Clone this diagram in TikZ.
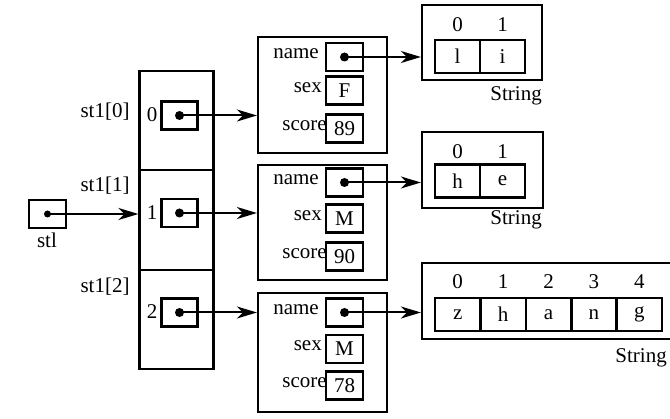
\documentclass[tikz,border=0pt]{standalone}
\usepackage{fontspec}
\setmainfont{Liberation Serif}
\usetikzlibrary{arrows.meta}
\begin{document}
\begin{tikzpicture}[x=1pt,y=-1pt,
  every node/.style={font=\fontsize{21}{25}\selectfont, inner sep=0pt},
  box/.style={draw, line width=2.2pt, inner sep=0pt},
  ptr/.style={line width=2pt, -{Stealth[length=20pt,width=12pt,inset=6pt]}},
  dotc/.style={fill, circle, inner sep=0pt, minimum size=9pt}]
\useasboundingbox (0,0) rectangle (670,419);

% stl
\node[box, minimum width=37pt, minimum height=28pt] (stl) at (47.5,214) {};
\node (stllab) at (47,240) {stl};
\node[dotc, minimum size=7pt] (stld) at (stl.center) {};

% array
\node[box, minimum width=74pt, minimum height=99pt] (a0) at (176.5,120.5) {};
\node[box, minimum width=74pt, minimum height=100pt] (a1) at (176.5,220) {};
\node[box, minimum width=74pt, minimum height=99pt] (a2) at (176.5,319.5) {};
\node[box, minimum width=36pt, minimum height=28pt] (p0) at (179.5,115.5) {};
\node[box, minimum width=36pt, minimum height=28pt] (p1) at (179.5,213) {};
\node[box, minimum width=36pt, minimum height=28pt] (p2) at (179.5,312.5) {};
\node (i0) at (152,115) {0};
\node (i1) at (152,213) {1};
\node (i2) at (152,312) {2};
\node (l0) at (105,112) {st1[0]};
\node (l1) at (105,186) {st1[1]};
\node (l2) at (105,287) {st1[2]};
\node[dotc] (d0) at (p0.center) {};
\node[dotc] (d1) at (p1.center) {};
\node[dotc] (d2) at (p2.center) {};

% structs
\tikzset{vbox/.style={box, minimum width=37pt, minimum height=28pt}}
\node[box, minimum width=129pt, minimum height=116pt] (s1) at (322.5,95) {};
\node[box, minimum width=129pt, minimum height=115pt] (s2) at (322.5,222.5) {};
\node[box, minimum width=129pt, minimum height=119pt] (s3) at (322.5,352.5) {};

\node[vbox] (s1n) at (344.5,57) {};
\node[vbox] (s1s) at (344.5,90.5) {F};
\node[vbox] (s1c) at (344.5,128.5) {89};
\node[vbox] (s2n) at (344.5,182.5) {};
\node[vbox] (s2s) at (344.5,218.5) {M};
\node[vbox] (s2c) at (344.5,256.5) {90};
\node[vbox] (s3n) at (344.5,312.5) {};
\node[vbox] (s3s) at (344.5,349) {M};
\node[vbox] (s3c) at (344.5,385.5) {78};

\foreach \k/\yn/\ys/\yc in {1/54/88/126, 2/180/216/254, 3/310/346/383}{
  \node[anchor=east] (nl\k) at (319,\yn) {name};
  \node[anchor=east] (xl\k) at (322,\ys) {sex};
  \node[anchor=east] (cl\k) at (327,\yc) {score};
}
\node[dotc] (n1d) at (s1n.center) {};
\node[dotc] (n2d) at (s2n.center) {};
\node[dotc] (n3d) at (s3n.center) {};

% strings
\tikzset{cell/.style={box, minimum width=45pt, minimum height=33pt}}
\node[box, minimum width=120pt, minimum height=75pt] (t1) at (482,42.5) {};
\node[cell] (t1a) at (457.5,56.5) {l};
\node[cell] (t1b) at (502.5,56.5) {i};
\node (t1i0) at (457.5,25) {0};
\node (t1i1) at (502.5,25) {1};
\node[anchor=east] (t1l) at (542,96) {String};

\node[box, minimum width=121pt, minimum height=76pt] (t2) at (482.5,170) {};
\node[cell] (t2a) at (457.5,181) {h};
\node[cell] (t2b) at (502.5,181) {e};
\node (t2i0) at (457.5,152) {0};
\node (t2i1) at (502.5,152) {1};
\node[anchor=east] (t2l) at (542,220) {String};

\node[box, minimum width=258pt, minimum height=76pt] (t3) at (551,301) {};
\node[cell] (t3a) at (457.7,314.5) {z};
\node[cell] (t3b) at (503.1,314.5) {h};
\node[cell] (t3c) at (548.5,314.5) {a};
\node[cell] (t3d) at (593.9,314.5) {n};
\node[cell] (t3e) at (639.3,314.5) {g};
\node (t3i0) at (457.7,282) {0};
\node (t3i1) at (503.1,282) {1};
\node (t3i2) at (548.5,282) {2};
\node (t3i3) at (593.9,282) {3};
\node (t3i4) at (639.3,282) {4};
\node[anchor=east] (t3l) at (667,358) {String};

% connectors
\draw[ptr] (stld.center) -- (stld.center -| a1.west);
\draw[ptr] (d0.center) -- (d0.center -| s1.west);
\draw[ptr] (d1.center) -- (d1.center -| s2.west);
\draw[ptr] (d2.center) -- (d2.center -| s3.west);
\draw[ptr] (n1d.center) -- (n1d.center -| t1.west);
\draw[ptr] (n2d.center) -- (n2d.center -| t2.west);
\draw[ptr] (n3d.center) -- (n3d.center -| t3.west);
\end{tikzpicture}
\end{document}
